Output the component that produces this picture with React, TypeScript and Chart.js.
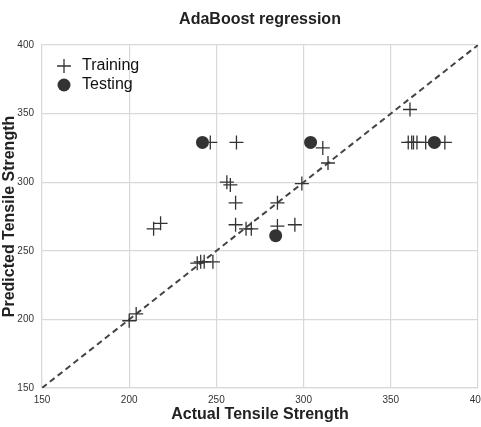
import { useEffect, useRef } from 'react';
import { Chart, registerables } from 'chart.js';
Chart.register(...registerables);

const FONT = "'Liberation Sans', Arial, sans-serif";

const chartTitle = 'AdaBoost regression';
const xTitle = 'Actual Tensile Strength';
const yTitle = 'Predicted Tensile Strength';
const legendLabels = ['Training', 'Testing'];

const trainX = [361, 246.5, 261.5, 256, 258, 261, 285, 261, 267, 270, 214, 218, 285, 295, 239, 241, 243, 248, 200, 204, 311, 314, 299, 360, 362, 363, 365, 370, 381];
const trainY = [353, 329, 329, 300, 298, 285, 285, 269, 266, 266, 266, 270, 268, 269, 241, 242, 242, 242, 199, 204, 325, 314, 299, 329, 329, 329, 329, 329, 329];

const testX = [242, 304, 284, 375];
const testY = [329, 329, 261, 329];

const idealX = [150, 400];
const idealY = [150, 400];

const axisMin = 150;
const axisMax = 400;
const axisStep = 50;

export default function App() {
  const ref = useRef<HTMLCanvasElement>(null);

  useEffect(() => {
    const overlay = {
      id: 'overlay',
      afterDraw(chart: any) {
        const ctx = chart.ctx;
        const ca = chart.chartArea;
        ctx.save();
        ctx.fillStyle = '#222';
        ctx.font = `bold 16px ${FONT}`;
        ctx.textAlign = 'center';
        ctx.textBaseline = 'middle';
        ctx.fillText(chartTitle, (ca.left + ca.right) / 2, 20);

        // legend
        ctx.strokeStyle = '#333';
        ctx.lineWidth = 1.3;
        const lx = 64;
        const ly1 = 66;
        const ly2 = 85;
        ctx.beginPath();
        ctx.moveTo(lx - 7, ly1);
        ctx.lineTo(lx + 7, ly1);
        ctx.moveTo(lx, ly1 - 7);
        ctx.lineTo(lx, ly1 + 7);
        ctx.stroke();
        ctx.fillStyle = '#333';
        ctx.beginPath();
        ctx.arc(lx, ly2, 6.5, 0, Math.PI * 2);
        ctx.fill();
        ctx.fillStyle = '#111';
        ctx.font = `16px ${FONT}`;
        ctx.textAlign = 'left';
        ctx.fillText(legendLabels[0], 82, ly1);
        ctx.fillText(legendLabels[1], 82, ly2);
        ctx.restore();
      },
    };

    const chart = new Chart(ref.current!, {
      type: 'scatter',
      data: {
        datasets: [
          {
            label: legendLabels[0],
            data: trainX.map((x, i) => ({ x, y: trainY[i] })),
            pointStyle: 'cross',
            pointRadius: 7,
            borderColor: '#333',
            backgroundColor: '#333',
            borderWidth: 1.3,
            order: 1,
          },
          {
            label: legendLabels[1],
            data: testX.map((x, i) => ({ x, y: testY[i] })),
            pointStyle: 'circle',
            pointRadius: 6.5,
            borderColor: '#333',
            backgroundColor: '#333',
            borderWidth: 0,
            order: 0,
          },
          {
            type: 'line',
            label: 'ideal',
            data: idealX.map((x, i) => ({ x, y: idealY[i] })),
            borderColor: '#444',
            borderDash: [6, 4],
            borderWidth: 2,
            pointRadius: 0,
            fill: false,
            order: 2,
          } as any,
        ],
      },
      options: {
        responsive: false,
        animation: false,
        devicePixelRatio: 1,
        layout: { padding: { top: 45, right: 22, left: 0, bottom: 0 } },
        plugins: {
          legend: { display: false },
          tooltip: { enabled: false },
          title: { display: false },
        },
        scales: {
          x: {
            type: 'linear',
            min: axisMin,
            max: axisMax,
            ticks: { stepSize: axisStep, font: { size: 10, family: FONT }, color: '#333', padding: 6 },
            grid: { color: '#d9d9d9', lineWidth: 1.2, drawTicks: false },
            border: { color: '#d9d9d9', width: 1.2 },
            title: {
              display: true,
              text: xTitle,
              font: { size: 16, weight: 'bold', family: FONT },
              color: '#222',
              padding: { top: 0, bottom: 3 },
            },
            afterFit: (s: any) => {
              s.height = 39;
              s.paddingLeft = 0;
              s.paddingRight = 0;
            },
          },
          y: {
            type: 'linear',
            min: axisMin,
            max: axisMax,
            ticks: { stepSize: axisStep, font: { size: 10, family: FONT }, color: '#333', padding: 8 },
            grid: { color: '#d9d9d9', lineWidth: 1.2, drawTicks: false },
            border: { color: '#d9d9d9', width: 1.2 },
            title: {
              display: true,
              text: yTitle,
              font: { size: 16, weight: 'bold', family: FONT },
              color: '#222',
              padding: { top: 0, bottom: 0 },
            },
            afterFit: (s: any) => {
              s.width = 42;
              s.paddingTop = 0;
              s.paddingBottom = 0;
            },
          },
        },
      },
      plugins: [overlay],
    });
    return () => chart.destroy();
  }, []);

  return (
    <div style={{ position: 'fixed', left: 0, top: 0, width: 481, height: 427, overflow: 'hidden', background: '#fff' }}>
      <canvas ref={ref} width={500} height={427} style={{ display: 'block' }} />
    </div>
  );
}
